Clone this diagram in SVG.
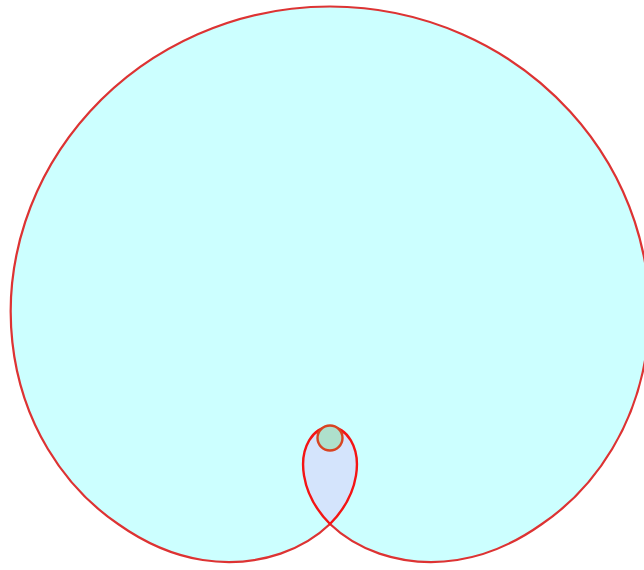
<svg xmlns="http://www.w3.org/2000/svg" width="644" height="570" viewBox="0 0 644 570">
<style>
.outer{fill:#ccffff;stroke:#dd3333;stroke-width:2.2}
.inner{fill:#d4e4fc;stroke:#f41414;stroke-width:2.4}
.dot{fill:#aee0cc;stroke:#d84422;stroke-width:2.4}
</style>
<rect width="644" height="570" fill="#ffffff"/>
<g id="outer-loop">
<path class="outer" transform="matrix(1.008,0,0,1,-2.64,0)" d="M330,524 C342.53,536.2 359.20,546.8 379.04,553.6 C401.62,561.3 428.31,564.4 456.28,560.0 C484.25,555.6 513.44,543.2 540.25,524 C567.06,505.65 591.43,480.13 609.90,449.00 C628.37,417.87 640.90,381.17 645.13,342.06 C649.36,302.95 645.27,261.49 632.30,221.70 C619.33,181.91 597.47,143.88 568.17,111.48 C538.87,79.09 502.17,52.40 461.23,34.24 C420.29,16.09 375.16,6.5 330,6.5 C284.84,6.5 239.71,16.09 198.77,34.24 C157.83,52.40 121.13,79.09 91.83,111.48 C62.53,143.88 40.67,181.91 27.70,221.70 C14.73,261.49 10.64,302.95 14.87,342.06 C19.10,381.17 31.63,417.87 50.10,449.00 C68.57,480.13 92.94,505.65 119.75,524 C146.56,543.2 175.75,555.6 203.72,560.0 C231.69,564.4 258.38,561.3 280.96,553.6 C300.80,546.8 317.47,536.2 330,524 Z"/>
</g>
<g id="inner-loop">
<path class="inner" d="M330,524 C344.87,509.00 353.38,491.39 355.97,475.64 C358.27,461.59 355.95,449.08 350.83,440.42 C345.72,431.76 337.87,427 330,427 C322.13,427 314.28,431.76 309.17,440.42 C304.05,449.08 301.73,461.59 304.03,475.64 C306.62,491.39 315.13,509.00 330,524 Z"/>
</g>
<g id="small-circle">
<circle class="dot" cx="330" cy="438" r="12.5"/>
</g>
</svg>
